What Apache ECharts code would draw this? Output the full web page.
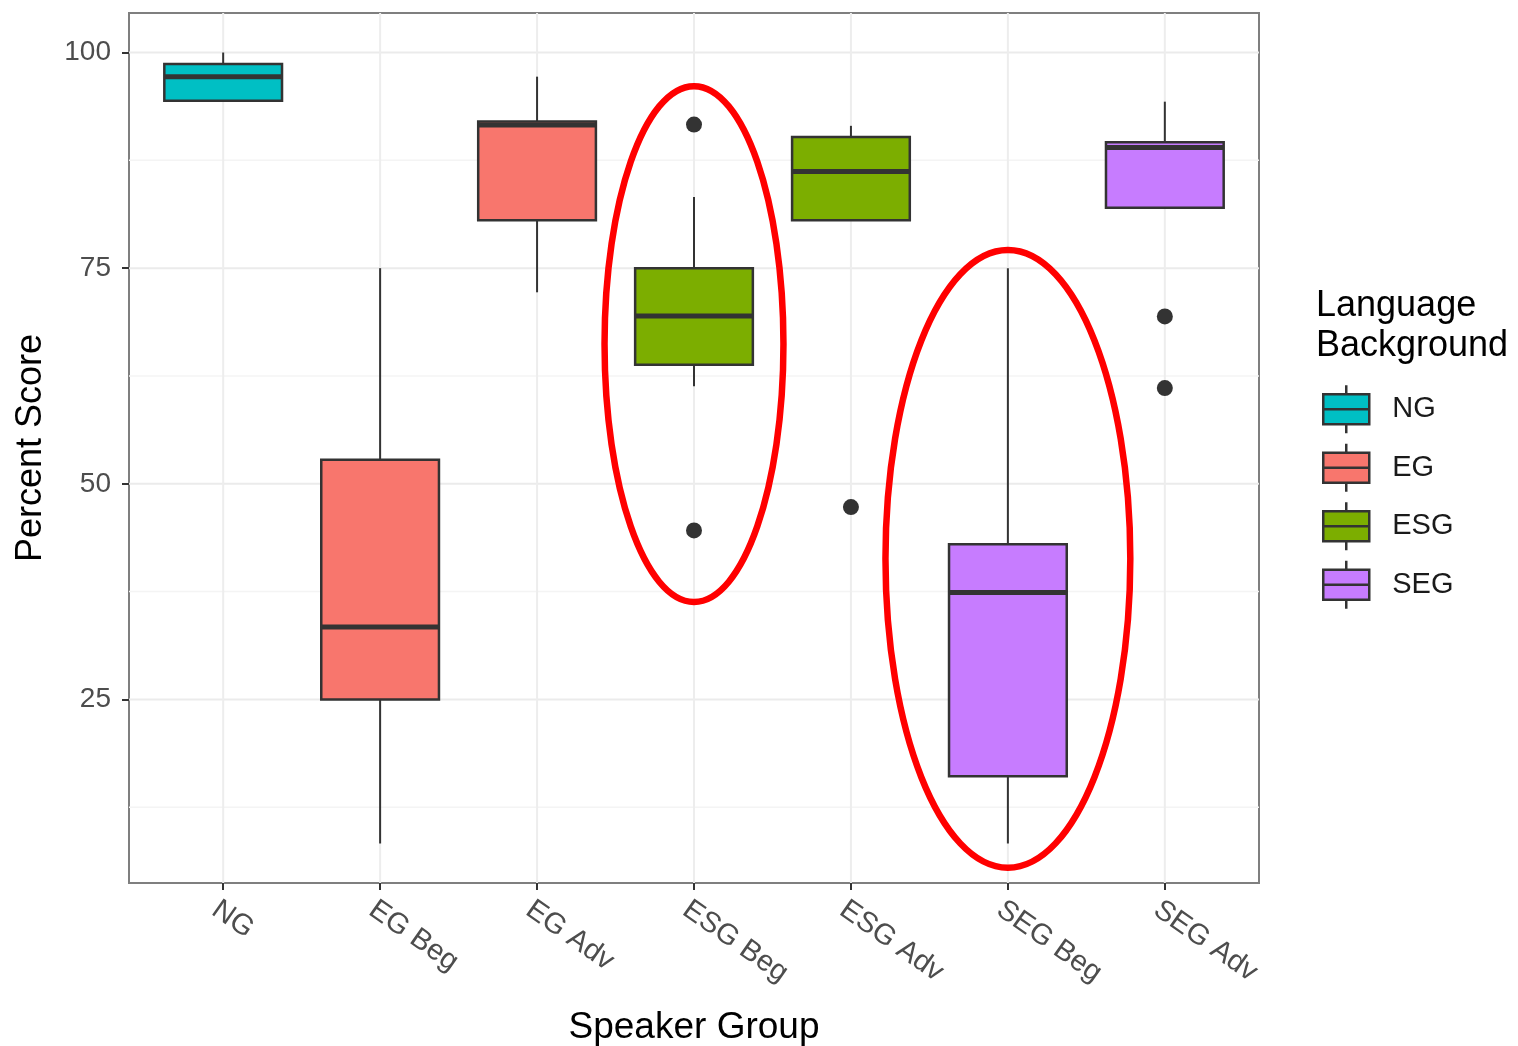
<!DOCTYPE html>
<html><head><meta charset="utf-8">
<script src="https://cdn.jsdelivr.net/npm/echarts@6/dist/echarts.min.js"></script>
<style>html,body{margin:0;padding:0;background:#fff}#chart{width:1518px;height:1046px}</style>
</head><body><div id="chart"></div>
<script>
// ---- data ----
const categories = ['NG', 'EG Beg', 'EG Adv', 'ESG Beg', 'ESG Adv', 'SEG Beg', 'SEG Adv'];
const categoryGroup = ['NG', 'EG', 'EG', 'ESG', 'ESG', 'SEG', 'SEG'];
const groups = ['NG', 'EG', 'ESG', 'SEG'];
const groupColors = ['#00BFC4', '#F8766D', '#7CAE00', '#C77CFF'];
const whiskerLow  = [94.4, 8.3, 72.2, 61.3, 80.55, 8.3, 82.0];
const quartile1   = [94.4, 25.0, 80.55, 63.8, 80.55, 16.1, 82.0];
const medians     = [97.2, 33.4, 91.6, 69.45, 86.2, 37.4, 89.0];
const quartile3   = [98.66, 52.8, 92.0, 75.0, 90.2, 43.0, 89.6];
const whiskerHigh = [100, 75.0, 97.2, 83.25, 91.5, 75.0, 94.3];
const outlierCategories = ['ESG Beg', 'ESG Beg', 'ESG Adv', 'SEG Adv', 'SEG Adv'];
const outlierValues = [91.64, 44.6, 47.3, 69.4, 61.1];
const yTickValues = [25, 50, 75, 100];
const yMinorValues = [12.5, 37.5, 62.5, 87.5];
// highlighted (circled) groups: category, centre value, half-height (value units), half-width (category units)
const highlightCategories = ['ESG Beg', 'SEG Beg'];
const highlightCentres = [66.2, 41.3];
const highlightHalfHeights = [29.9, 35.8];
const highlightHalfWidths = [0.57, 0.78];

const FONT = "'Liberation Sans', Arial, Helvetica, sans-serif";
const yMin = 3.72, yMax = 104.58;
const catIdx = categories.map((c, i) => i);

const chart = echarts.init(document.getElementById('chart'), null, {renderer: 'canvas'});

const gridSeries = {
  type: 'custom', silent: true, z: 1, clip: true,
  encode: {x: 0, y: 1},
  data: yTickValues.map(v => [0, v, 1, 0])
    .concat(yMinorValues.map(v => [0, v, 0, 0]))
    .concat(catIdx.map(i => [i, 50, 1, 1])),
  renderItem: (params, api) => {
    const cs = params.coordSys;
    const major = api.value(2) === 1;
    if (api.value(3) === 1) {
      const x = api.coord([api.value(0), 50])[0];
      return {type: 'line', shape: {x1: x, y1: cs.y, x2: x, y2: cs.y + cs.height},
        style: {stroke: '#EDEDED', lineWidth: 2}};
    }
    const y = api.coord([0, api.value(1)])[1];
    return {type: 'line', shape: {x1: cs.x, y1: y, x2: cs.x + cs.width, y2: y},
      style: {stroke: major ? '#EBEBEB' : '#F4F4F4', lineWidth: major ? 2 : 1.5}};
  }
};

const boxSeries = groups.map((g, gi) => ({
  type: 'custom', name: g, z: 3,
  itemStyle: {color: groupColors[gi]},
  encode: {x: 0, y: [1, 2, 3, 4, 5]},
  data: catIdx.filter(i => categoryGroup[i] === g)
    .map(i => [i, whiskerLow[i], quartile1[i], medians[i], quartile3[i], whiskerHigh[i]]),
  renderItem: (params, api) => {
    const x = api.value(0);
    const bw = api.size([1, 0])[0] * 0.75;
    const p = k => api.coord([x, api.value(k)]);
    const lo = p(1), q1 = p(2), md = p(3), q3 = p(4), hi = p(5);
    const cx = lo[0];
    const dark = '#333333';
    return {type: 'group', children: [
      {type: 'line', shape: {x1: cx, y1: hi[1], x2: cx, y2: q3[1]}, style: {stroke: dark, lineWidth: 2}},
      {type: 'line', shape: {x1: cx, y1: q1[1], x2: cx, y2: lo[1]}, style: {stroke: dark, lineWidth: 2}},
      {type: 'rect', shape: {x: cx - bw / 2, y: q3[1], width: bw, height: q1[1] - q3[1]},
        style: {fill: api.visual('color'), stroke: dark, lineWidth: 2.5}},
      {type: 'line', shape: {x1: cx - bw / 2, y1: md[1], x2: cx + bw / 2, y2: md[1]},
        style: {stroke: dark, lineWidth: 5}}
    ]};
  }
}));

const outlierSeries = {
  type: 'scatter', z: 4, symbol: 'circle', symbolSize: 16,
  itemStyle: {color: '#333333', opacity: 1},
  data: outlierCategories.map((c, k) => [categories.indexOf(c), outlierValues[k]])
};

chart.setOption({
  animation: false,
  backgroundColor: '#ffffff',
  title: {
    text: 'Language\nBackground', left: 1311, top: 281,
    textStyle: {fontFamily: FONT, fontSize: 36, fontWeight: 'normal', color: '#000', lineHeight: 40}
  },
  legend: {
    orient: 'vertical', left: 1322, top: 384, padding: 0,
    itemWidth: 46, itemHeight: 48, itemGap: 8,
    selectedMode: false,
    icon: 'path://M0,9L46,9L46,39L0,39Z M0,24L46,24 M23,0L23,9 M23,39L23,48',
    itemStyle: {borderColor: '#333333', borderWidth: 2.5},
    textStyle: {fontFamily: FONT, fontSize: 29, color: '#1a1a1a', padding: [0, 0, 0, 18]},
    data: groups.map((g, gi) => ({name: g, itemStyle: {color: groupColors[gi], borderColor: '#333333', borderWidth: 2.5}}))
  },
  grid: {
    left: 129, right: 259, top: 13, bottom: 163,
    show: true, borderColor: '#7f7f7f', borderWidth: 2, backgroundColor: 'transparent',
    outerBoundsMode: 'none'
  },
  xAxis: {
    type: 'value', min: -0.6, max: 6.6,
    splitLine: {show: false},
    axisLine: {show: true, onZero: false, lineStyle: {color: '#7f7f7f', width: 2}},
    axisTick: {show: true, customValues: catIdx, length: 7, lineStyle: {color: '#333333', width: 2}},
    axisLabel: {
      customValues: catIdx, formatter: v => categories[Math.round(v)] || '',
      rotate: -35, verticalAlign: 'top', fontFamily: FONT, fontSize: 29, color: '#4D4D4D', margin: 12
    },
    name: 'Speaker Group', nameLocation: 'middle', nameGap: 126,
    nameTextStyle: {fontFamily: FONT, fontSize: 37, color: '#000'}
  },
  yAxis: {
    type: 'value', min: yMin, max: yMax,
    splitLine: {show: false},
    axisLine: {show: true, onZero: false, lineStyle: {color: '#7f7f7f', width: 2}},
    axisTick: {show: true, customValues: yTickValues, length: 7, lineStyle: {color: '#333333', width: 2}},
    axisLabel: {customValues: yTickValues, fontFamily: FONT, fontSize: 28, color: '#4D4D4D', margin: 18},
    name: 'Percent Score', nameLocation: 'middle', nameGap: 80,
    nameTextStyle: {fontFamily: FONT, fontSize: 36, color: '#000'}
  },
  series: [gridSeries].concat(boxSeries, [outlierSeries])
});

// red ellipses around highlighted groups, positioned through the axes
const graphics = highlightCategories.map((c, k) => {
  const i = categories.indexOf(c);
  const centre = chart.convertToPixel({xAxisIndex: 0, yAxisIndex: 0}, [i, highlightCentres[k]]);
  const top = chart.convertToPixel({xAxisIndex: 0, yAxisIndex: 0}, [i + highlightHalfWidths[k], highlightCentres[k] + highlightHalfHeights[k]]);
  return {
    type: 'ellipse', z: 100, silent: true,
    shape: {cx: centre[0], cy: centre[1], rx: top[0] - centre[0], ry: centre[1] - top[1]},
    style: {fill: null, stroke: '#FF0000', lineWidth: 6.5}
  };
});
chart.setOption({graphic: graphics});
</script>
</body></html>
